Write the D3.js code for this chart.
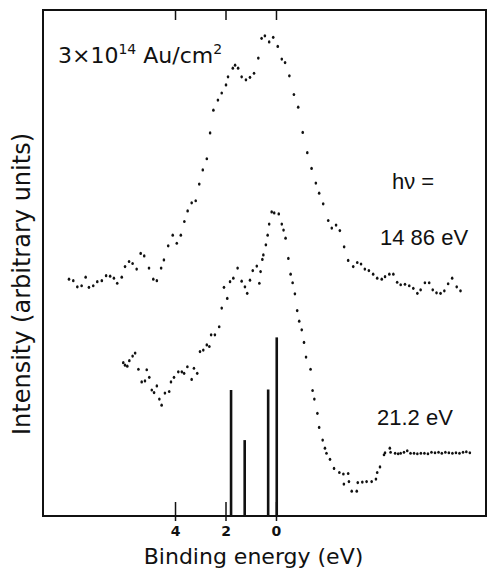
<!DOCTYPE html>
<html>
<head>
<meta charset="utf-8">
<script src="https://cdn.jsdelivr.net/npm/d3@7"></script>
<style>
  body { margin: 0; background: #fff; }
  svg { display: block; }
</style>
</head>
<body>
<div id="chart"></div>
<script>
// binding energy (eV) and intensity (arb. units, 0-100)
var xpsEnergy = [8.20, 8.03, 7.87, 7.70, 7.54, 7.41, 7.24, 7.08, 6.90, 6.73,
    6.57, 6.42, 6.29, 6.11, 5.98, 5.82, 5.68, 5.52, 5.36, 5.22,
    5.03, 4.86, 4.72, 4.55, 4.44, 4.27, 4.09, 3.93, 3.77, 3.63,
    3.50, 3.34, 3.18, 3.04, 2.90, 2.74, 2.61, 2.48, 2.30, 2.15,
    1.98, 1.90, 1.71, 1.62, 1.50, 1.36, 1.19, 1.03, 0.87, 0.70,
    0.57, 0.44, 0.27, 0.11, -0.07, -0.23, -0.36, -0.53, -0.71, -0.88,
    -1.06, -1.24, -1.41, -1.58, -1.71, -1.87, -2.07, -2.21, -2.38, -2.53,
    -2.70, -2.86, -3.06, -3.22, -3.37, -3.52, -3.68, -3.85, -4.01, -4.19,
    -4.32, -4.49, -4.65, -4.80, -4.94, -5.11, -5.28, -5.44, -5.60, -5.73,
    -5.90, -6.07, -6.21, -6.36, -6.52, -6.67, -6.82, -6.98, -7.16, -7.31];
var xpsIntensity = [46.8, 46.5, 45.3, 45.5, 47.2, 45.2, 45.5, 46.3, 46.5, 47.5,
    47.4, 47.0, 46.0, 47.2, 49.3, 50.3, 49.9, 48.8, 51.9, 51.4,
    49.0, 46.8, 46.5, 49.0, 50.6, 53.4, 55.5, 53.9, 55.5, 58.2,
    60.3, 61.9, 62.3, 65.6, 68.4, 70.6, 75.7, 80.2, 82.2, 83.6,
    85.2, 86.8, 88.5, 89.1, 88.5, 86.8, 86.2, 86.7, 87.5, 90.5,
    94.4, 94.9, 93.7, 94.6, 92.8, 90.3, 89.6, 87.0, 83.3, 80.8,
    75.8, 71.8, 68.7, 65.8, 63.8, 61.7, 58.4, 56.9, 57.5, 56.4,
    53.2, 50.5, 49.3, 50.1, 49.8, 48.8, 48.5, 47.8, 47.0, 46.8,
    47.3, 47.8, 47.8, 46.2, 45.7, 45.8, 45.5, 45.0, 44.0, 44.7,
    46.1, 46.1, 44.7, 44.1, 44.0, 44.5, 45.9, 47.0, 45.3, 44.5];

var uvEnergy = [6.05, 5.98, 5.89, 5.81, 5.68, 5.58, 5.45, 5.32, 5.19, 5.12,
    5.02, 4.92, 4.83, 4.72, 4.62, 4.53, 4.40, 4.23, 4.16, 4.04,
    3.87, 3.73, 3.64, 3.51, 3.34, 3.25, 3.12, 3.01, 2.88, 2.74,
    2.64, 2.57, 2.42, 2.25, 2.15, 2.06, 1.93, 1.82, 1.69, 1.52,
    1.36, 1.23, 1.14, 1.03, 0.92, 0.76, 0.66, 0.61, 0.54, 0.50,
    0.40, 0.33, 0.27, 0.17, 0.07, -0.11, -0.23, -0.30, -0.38, -0.49,
    -0.58, -0.66, -0.75, -0.84, -0.92, -1.02, -1.11, -1.19, -1.37, -1.45,
    -1.52, -1.64, -1.71, -1.85, -1.94, -2.00, -2.14, -2.30, -2.51, -2.67,
    -2.69, -2.86, -2.89, -3.00, -3.20, -3.24, -3.42, -3.59, -3.79, -3.96,
    -4.01, -4.12, -4.28, -4.32, -4.51, -4.54, -4.72, -4.84, -4.94, -5.07,
    -5.20, -5.33, -5.47, -5.60, -5.74, -5.88, -6.02, -6.16, -6.30, -6.44,
    -6.57, -6.71, -6.85, -6.99, -7.13, -7.27, -7.41, -7.54, -7.68];
var uvIntensity = [30.3, 29.8, 29.6, 30.7, 31.6, 32.2, 29.0, 26.5, 26.7, 28.9,
    27.4, 24.9, 24.4, 25.7, 23.1, 21.9, 24.3, 24.6, 26.5, 27.4,
    28.5, 28.5, 28.2, 29.5, 27.0, 29.2, 28.2, 32.5, 32.8, 33.8,
    33.5, 35.8, 35.8, 37.4, 41.1, 45.2, 43.0, 46.3, 47.0, 49.0,
    46.4, 45.3, 44.0, 46.6, 48.5, 49.4, 46.0, 48.3, 50.7, 51.6,
    53.6, 55.5, 57.7, 60.1, 59.9, 59.7, 57.7, 56.5, 54.9, 50.9,
    47.8, 46.1, 43.9, 40.6, 38.5, 36.8, 34.3, 31.4, 29.0, 24.8,
    23.1, 20.3, 17.5, 15.0, 13.4, 12.4, 11.2, 9.4, 8.6, 8.3,
    6.3, 8.4, 6.8, 4.9, 4.9, 6.6, 6.7, 6.8, 6.8, 7.3,
    8.6, 9.7, 12.1, 12.5, 13.4, 12.6, 12.4, 12.3, 12.4, 12.6,
    12.9, 12.4, 12.4, 12.3, 12.4, 12.4, 12.3, 12.6, 12.5, 12.6,
    12.4, 12.6, 12.5, 12.4, 12.5, 12.4, 12.6, 12.7, 12.5];

// calculated level positions (vertical bars)
var barEnergy = [1.78, 1.24, 0.31, -0.03];
var barHeight = [24.9, 15.0, 25.0, 35.3];

var tickValues = [4, 2, 0];

var width = 487, height = 571;
var margin = {top: 10, right: 1, bottom: 55, left: 43};
var ink = '#111';

var x = d3.scaleLinear()
    .domain([9.23, -8.32])
    .range([margin.left, width - margin.right]);

var y = d3.scaleLinear()
    .domain([0, 100])
    .range([height - margin.bottom, margin.top]);

var svg = d3.select('#chart')
    .append('svg')
    .attr('width', width)
    .attr('height', height);

// frame
svg.append('rect')
    .attr('x', margin.left)
    .attr('y', margin.top)
    .attr('width', width - margin.right - margin.left)
    .attr('height', height - margin.bottom - margin.top)
    .attr('fill', 'none')
    .attr('stroke', ink)
    .attr('stroke-width', 2);

// bottom axis, ticks point inward and poke a little below
var bottomAxis = svg.append('g')
    .attr('transform', 'translate(0,' + y(0) + ')')
    .call(d3.axisBottom(x).tickValues(tickValues).tickSize(-14).tickPadding(10));
bottomAxis.select('.domain').remove();
bottomAxis.selectAll('line')
    .attr('y1', 5)
    .attr('stroke', ink)
    .attr('stroke-width', 1.5);
bottomAxis.selectAll('text')
    .attr('fill', ink)
    .style('font-family', 'DejaVu Sans, sans-serif')
    .style('font-size', '14px')
    .style('font-weight', 'bold');

var topAxis = svg.append('g')
    .attr('transform', 'translate(0,' + y(100) + ')')
    .call(d3.axisTop(x).tickValues(tickValues).tickSize(-10).tickFormat(''));
topAxis.select('.domain').remove();
topAxis.selectAll('line')
    .attr('stroke', ink)
    .attr('stroke-width', 1.5);

// level bars
svg.selectAll('.level')
    .data(d3.zip(barEnergy, barHeight))
    .enter().append('line')
    .attr('class', 'level')
    .attr('x1', d => x(d[0]))
    .attr('x2', d => x(d[0]))
    .attr('y1', y(0))
    .attr('y2', d => y(d[1]))
    .attr('stroke', ink)
    .attr('stroke-width', 2.6);

function drawDots(energy, intensity, cls) {
    svg.selectAll('.' + cls)
        .data(d3.zip(energy, intensity))
        .enter().append('ellipse')
        .attr('class', cls)
        .attr('cx', d => x(d[0]))
        .attr('cy', d => y(d[1]))
        .attr('rx', 1.3)
        .attr('ry', 1.6)
        .attr('fill', ink);
}

drawDots(xpsEnergy, xpsIntensity, 'xps');
drawDots(uvEnergy, uvIntensity, 'uv');

// annotations
var cover = svg.append('text')
    .attr('x', 58)
    .attr('y', 63)
    .attr('fill', ink)
    .style('font-family', 'DejaVu Sans, sans-serif')
    .style('font-size', '22px');
cover.append('tspan').text('3×10');
cover.append('tspan').attr('dy', -9).style('font-size', '14px').text('14');
cover.append('tspan').attr('dy', 9).text(' Au/cm');
cover.append('tspan').attr('dy', -9).style('font-size', '14px').text('2');

var labelFont = 'Liberation Sans, Arial, sans-serif';

svg.append('text')
    .attr('x', 392)
    .attr('y', 189)
    .attr('fill', ink)
    .style('font-family', labelFont)
    .style('font-size', '22px')
    .text('hν =');

svg.append('text')
    .attr('x', 380)
    .attr('y', 245)
    .attr('fill', ink)
    .style('font-family', labelFont)
    .style('font-size', '22px')
    .text('14 86 eV');

svg.append('text')
    .attr('x', 377)
    .attr('y', 425)
    .attr('fill', ink)
    .style('font-family', labelFont)
    .style('font-size', '22px')
    .text('21.2 eV');

// axis titles
svg.append('text')
    .attr('x', 253.5)
    .attr('y', 564)
    .attr('text-anchor', 'middle')
    .attr('fill', ink)
    .style('font-family', 'DejaVu Sans, sans-serif')
    .style('font-size', '22px')
    .text('Binding energy (eV)');

svg.append('text')
    .attr('transform', 'translate(30,284) rotate(-90)')
    .attr('text-anchor', 'middle')
    .attr('fill', ink)
    .style('font-family', 'DejaVu Sans, sans-serif')
    .style('font-size', '24px')
    .text('Intensity (arbitrary units)');
</script>
</body>
</html>
